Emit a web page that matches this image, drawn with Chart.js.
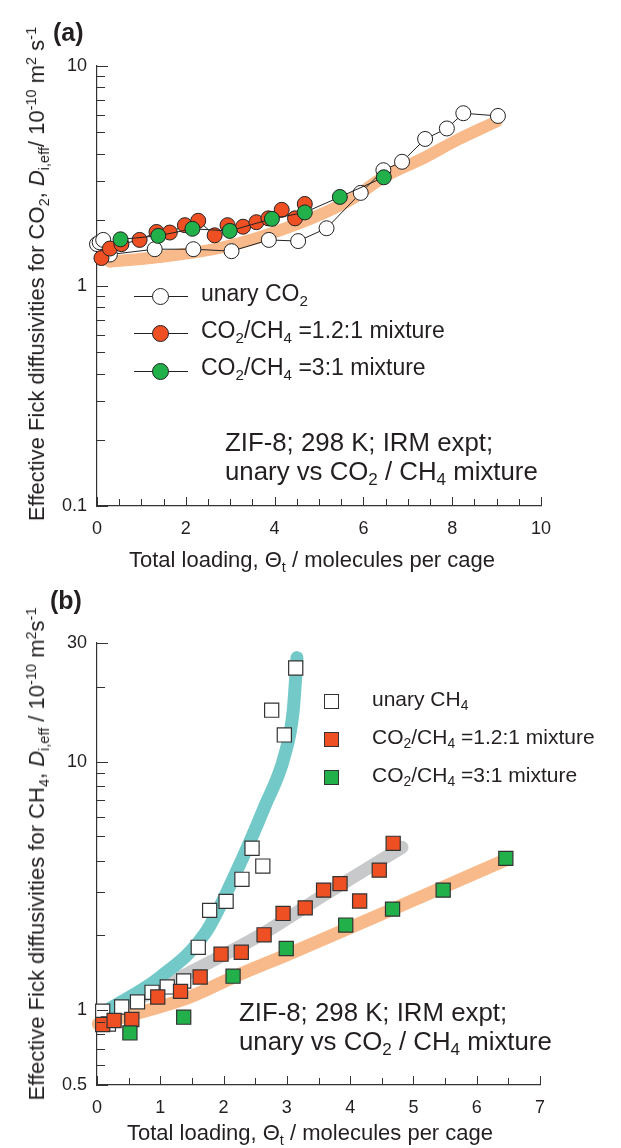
<!DOCTYPE html>
<html>
<head>
<meta charset="utf-8">
<script src="https://cdn.jsdelivr.net/npm/chart.js@4"></script>
<style>
body{margin:0;background:#fff}
#wrap{position:relative;width:621px;height:1148px;overflow:hidden;font-family:"Liberation Sans",Arial,sans-serif;color:#231f20}
canvas{position:absolute;left:0}
.t{position:absolute;white-space:nowrap;line-height:1}
.sb{position:relative;top:.32em;font-size:.66em}
.sp{position:relative;top:-.55em;font-size:.66em}
.ln{position:absolute;height:0;border-top:1.2px solid #222}
.dot{position:absolute;width:15px;height:15px;border:1px solid #222;border-radius:50%}
.sq{position:absolute;width:13px;height:13px;border:1.2px solid #333}
.ytitle{position:absolute;white-space:nowrap;line-height:1;font-size:22px;transform:translate(-50%,-50%) rotate(-90deg)}
</style>
</head>
<body>
<div id="wrap">
  <canvas id="chartA" width="621" height="574" style="top:0"></canvas>
  <canvas id="chartB" width="621" height="574" style="top:574px"></canvas>

  <!-- panel (a) texts -->
  <div class="t" style="left:53px;top:20px;font-size:25px;font-weight:bold">(a)</div>
  <div class="ytitle" style="left:37px;top:274px">Effective Fick diffusivities for CO<span class="sb">2</span>, <i>D</i><span class="sb">i,eff</span>/ 10<span class="sp">-10</span> m<span class="sp">2</span> s<span class="sp">-1</span></div>
  <div class="t" style="left:312px;top:549px;font-size:22px;transform:translateX(-50%)">Total loading, Θ<span class="sb">t</span> / molecules per cage</div>

  <div class="ln" style="left:134px;top:296px;width:54px"></div>
  <div class="dot" style="left:152px;top:288px;background:#fff"></div>
  <div class="t" style="left:201px;top:282px;font-size:23px">unary CO<span class="sb">2</span></div>
  <div class="ln" style="left:134px;top:333px;width:54px"></div>
  <div class="dot" style="left:152px;top:325px;background:#ef5023"></div>
  <div class="t" style="left:201px;top:319px;font-size:23px">CO<span class="sb">2</span>/CH<span class="sb">4</span> =1.2:1 mixture</div>
  <div class="ln" style="left:134px;top:371px;width:54px"></div>
  <div class="dot" style="left:152px;top:363px;background:#22b04b"></div>
  <div class="t" style="left:201px;top:356px;font-size:23px">CO<span class="sb">2</span>/CH<span class="sb">4</span> =3:1 mixture</div>

  <div class="t" style="left:225px;top:428px;font-size:25.8px;line-height:29px">ZIF-8; 298 K; IRM expt;<br>unary vs CO<span class="sb">2</span> / CH<span class="sb">4</span> mixture</div>

  <!-- panel (b) texts -->
  <div class="t" style="left:50px;top:588px;font-size:25px;font-weight:bold">(b)</div>
  <div class="ytitle" style="left:37px;top:854px">Effective Fick diffusivities for CH<span class="sb">4</span>, <i>D</i><span class="sb">i,eff</span> / 10<span class="sp">-10</span> m<span class="sp">2</span>s<span class="sp">-1</span></div>
  <div class="t" style="left:310px;top:1122px;font-size:22px;transform:translateX(-50%)">Total loading, Θ<span class="sb">t</span> / molecules per cage</div>

  <div class="sq" style="left:324px;top:694px;background:#fff"></div>
  <div class="t" style="left:372px;top:688px;font-size:21px">unary CH<span class="sb">4</span></div>
  <div class="sq" style="left:324px;top:732px;background:#ef5023"></div>
  <div class="t" style="left:372px;top:726px;font-size:21px">CO<span class="sb">2</span>/CH<span class="sb">4</span> =1.2:1 mixture</div>
  <div class="sq" style="left:324px;top:770px;background:#22b04b"></div>
  <div class="t" style="left:372px;top:764px;font-size:21px">CO<span class="sb">2</span>/CH<span class="sb">4</span> =3:1 mixture</div>

  <div class="t" style="left:239px;top:998px;font-size:25.8px;line-height:29px">ZIF-8; 298 K; IRM expt;<br>unary vs CO<span class="sb">2</span> / CH<span class="sb">4</span> mixture</div>
</div>

<script>
// ---- panel (a): CO2 diffusivities ----
const xTicksA = [0, 2, 4, 6, 8, 10];
const yTicksA = [0.1, 1, 10];

const unaryCO2X = [0.0, 0.06, 0.14, 0.29, 1.30, 2.17, 3.03, 3.87, 4.53, 5.17, 5.94, 6.45, 6.87, 7.39, 7.88, 8.25, 9.03];
const unaryCO2Y = [1.55, 1.58, 1.62, 1.39, 1.47, 1.47, 1.44, 1.62, 1.60, 1.83, 2.65, 3.36, 3.67, 4.66, 5.2, 6.1, 5.93];

const mix12CO2X = [0.10, 0.29, 0.55, 0.96, 1.34, 1.64, 1.98, 2.28, 2.65, 2.94, 3.29, 3.59, 3.86, 4.16, 4.46, 4.68];
const mix12CO2Y = [1.34, 1.48, 1.55, 1.62, 1.76, 1.75, 1.89, 1.98, 1.70, 1.89, 1.86, 1.95, 2.03, 2.22, 2.03, 2.36];

const mix31CO2X = [0.53, 1.38, 2.15, 2.99, 3.94, 4.68, 5.47, 6.46];
const mix31CO2Y = [1.63, 1.69, 1.82, 1.78, 2.02, 2.16, 2.54, 3.12];

// thick guide band
const bandAX = [0.29, 1.34, 2.84, 4.35, 5.70, 6.45, 7.35, 8.11, 9.0];
const bandAY = [1.29, 1.35, 1.50, 1.86, 2.46, 3.12, 3.81, 4.61, 5.6];

// ---- panel (b): CH4 diffusivities ----
const xTicksB = [0, 1, 2, 3, 4, 5, 6, 7];
const yTicksB = [0.5, 1, 10, 30];

const unaryCH4X = [0.09, 0.18, 0.39, 0.64, 0.87, 1.11, 1.37, 1.60, 1.78, 2.04, 2.29, 2.45, 2.62, 2.76, 2.96, 3.14];
const unaryCH4Y = [0.99, 0.88, 1.03, 1.08, 1.18, 1.24, 1.31, 1.79, 2.52, 2.74, 3.36, 4.48, 3.80, 16.1, 12.8, 23.8];

const mix12CH4X = [0.09, 0.27, 0.55, 0.96, 1.32, 1.63, 1.96, 2.28, 2.64, 2.94, 3.29, 3.58, 3.84, 4.15, 4.46, 4.68];
const mix12CH4Y = [0.876, 0.909, 0.917, 1.13, 1.19, 1.36, 1.68, 1.71, 2.01, 2.45, 2.58, 3.04, 3.23, 2.75, 3.66, 4.69];

const mix31CH4X = [0.52, 1.37, 2.15, 2.99, 3.93, 4.67, 5.47, 6.46];
const mix31CH4Y = [0.81, 0.937, 1.37, 1.77, 2.20, 2.55, 3.04, 4.08];

const bandUnaryX = [0.16, 1.0, 1.71, 2.22, 2.66, 2.96, 3.10, 3.16];
const bandUnaryY = [1.0, 1.36, 2.04, 3.69, 6.69, 10.5, 16.0, 26.2];

const band12X = [0.2, 0.68, 1.47, 2.53, 3.58, 4.82];
const band12Y = [1.0, 1.12, 1.42, 1.97, 2.90, 4.52];

const band31X = [0.02, 1.47, 2.16, 3.05, 4.63, 6.47];
const band31Y = [0.88, 1.13, 1.36, 1.69, 2.52, 4.04];

const pts = (xs, ys) => xs.map((x, i) => ({ x: x, y: ys[i] }));

// inward tick marks drawn from the chart's own scales
const tickMarks = {
    id: 'tickMarks',
    afterDraw(chart, args, opts) {
        const { ctx, chartArea: a, scales: { x, y } } = chart;
        ctx.save();
        ctx.strokeStyle = '#333';
        ctx.lineWidth = 1;
        ctx.beginPath();
        const n = Math.round((x.max - x.min) / opts.xStep);
        for (let i = 0; i <= n; i++) {
            const v = x.min + i * opts.xStep;
            const px = Math.round(x.getPixelForValue(v)) + 0.5;
            const len = opts.xMajor.some(m => Math.abs(m - v) < 1e-6) ? 9 : 7;
            ctx.moveTo(px, a.bottom);
            ctx.lineTo(px, a.bottom - len);
        }
        const e0 = Math.floor(Math.log10(y.min)), e1 = Math.ceil(Math.log10(y.max));
        for (let e = e0; e <= e1; e++) {
            for (let m = 1; m <= 9; m++) {
                const v = m * Math.pow(10, e);
                if (v < y.min * 0.999 || v > y.max * 1.001) continue;
                const py = Math.round(y.getPixelForValue(v)) + 0.5;
                const len = opts.yMajor.some(t => Math.abs(t - v) / t < 1e-6) ? 11 : 8;
                ctx.moveTo(a.left, py);
                ctx.lineTo(a.left + len, py);
            }
        }
        ctx.stroke();
        ctx.restore();
    }
};

const tickFont = { family: '"Liberation Sans", Arial, sans-serif', size: 18 };

function band(xs, ys, color, width, order) {
    return {
        data: pts(xs, ys), showLine: true, pointRadius: 0,
        borderColor: color, borderWidth: width, borderCapStyle: 'round', borderJoinStyle: 'round',
        cubicInterpolationMode: 'monotone', clip: false, order: order
    };
}

function axes(xMin, xMax, xTicks, yMin, yMax, yTicks, xHeight) {
    return {
        x: {
            type: 'linear', min: xMin, max: xMax,
            afterBuildTicks: s => { s.ticks = xTicks.map(v => ({ value: v })); },
            afterFit: s => { s.height = xHeight; s.paddingLeft = 0; s.paddingRight = 0; },
            grid: { display: false },
            border: { display: true, color: '#333', width: 1.2 },
            ticks: { color: '#231f20', font: tickFont, padding: 4, maxRotation: 0, callback: v => String(v) }
        },
        y: {
            type: 'logarithmic', min: yMin, max: yMax,
            afterBuildTicks: s => { s.ticks = yTicks.map(v => ({ value: v })); },
            afterFit: s => { s.width = 97; s.paddingTop = 0; s.paddingBottom = 0; },
            grid: { display: false },
            border: { display: true, color: '#333', width: 1.2 },
            ticks: { color: '#231f20', font: tickFont, padding: 2, callback: v => String(v) }
        }
    };
}

const common = {
    responsive: false, animation: false, events: [],
    plugins: { legend: { display: false }, tooltip: { enabled: false } }
};

const chartA = new Chart(document.getElementById('chartA'), {
    type: 'scatter',
    data: {
        datasets: [
            band(bandAX, bandAY, '#f9ba8b', 12, 10),
            { data: pts(unaryCO2X, unaryCO2Y), showLine: true, borderColor: '#222', borderWidth: 1,
              pointRadius: 7.5, pointBackgroundColor: '#fff', pointBorderColor: '#222', pointBorderWidth: 1, clip: false, order: 3 },
            { data: pts(mix12CO2X, mix12CO2Y), showLine: true, borderColor: '#222', borderWidth: 1,
              pointRadius: 7.5, pointBackgroundColor: '#ef5023', pointBorderColor: '#222', pointBorderWidth: 1, clip: false, order: 2 },
            { data: pts(mix31CO2X, mix31CO2Y), showLine: true, borderColor: '#222', borderWidth: 1,
              pointRadius: 7.5, pointBackgroundColor: '#22b04b', pointBorderColor: '#222', pointBorderWidth: 1, clip: false, order: 1 }
        ]
    },
    options: Object.assign({}, common, {
        layout: { padding: { left: 0, top: 66, right: 80, bottom: 0 } },
        scales: axes(0, 10, xTicksA, 0.1, 10, yTicksA, 68),
        plugins: Object.assign({}, common.plugins, { tickMarks: { xStep: 0.5, xMajor: xTicksA, yMajor: yTicksA } })
    }),
    plugins: [tickMarks]
});

const chartB = new Chart(document.getElementById('chartB'), {
    type: 'scatter',
    data: {
        datasets: [
            band(band31X, band31Y, '#f9ba8b', 13, 12),
            band(band12X, band12Y, '#c8c9ca', 13, 11),
            band(bandUnaryX, bandUnaryY, '#72c9c8', 13, 10),
            { data: pts(unaryCH4X, unaryCH4Y), pointStyle: 'rect', pointRadius: 10,
              pointBackgroundColor: '#fff', pointBorderColor: '#333', pointBorderWidth: 1.2, clip: false, order: 3 },
            { data: pts(mix12CH4X, mix12CH4Y), pointStyle: 'rect', pointRadius: 10,
              pointBackgroundColor: '#ef5023', pointBorderColor: '#333', pointBorderWidth: 1.2, clip: false, order: 2 },
            { data: pts(mix31CH4X, mix31CH4Y), pointStyle: 'rect', pointRadius: 10,
              pointBackgroundColor: '#22b04b', pointBorderColor: '#333', pointBorderWidth: 1.2, clip: false, order: 1 }
        ]
    },
    options: Object.assign({}, common, {
        layout: { padding: { left: 0, top: 69, right: 81, bottom: 0 } },
        scales: axes(0, 7, xTicksB, 0.5, 30, yTicksB, 63),
        plugins: Object.assign({}, common.plugins, { tickMarks: { xStep: 0.5, xMajor: xTicksB, yMajor: yTicksB } })
    }),
    plugins: [tickMarks]
});
</script>
</body>
</html>
